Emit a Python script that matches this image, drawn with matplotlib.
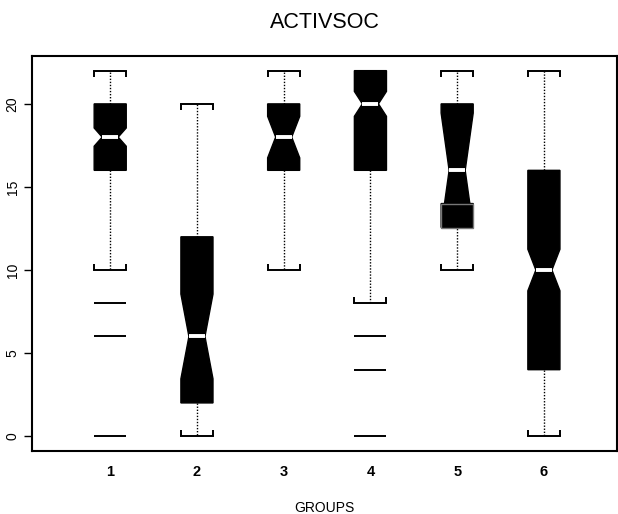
import matplotlib
matplotlib.use("Agg")
import matplotlib.pyplot as plt
from matplotlib.patches import Rectangle

plt.rcParams["font.family"] = ["Liberation Sans", "DejaVu Sans"]

# summary stats per group
groups = ["1", "2", "3", "4", "5", "6"]
medians = [18, 6, 18, 20, 16, 10]
q1 = [16, 2, 16, 16, 14, 4]
q3 = [20, 12, 20, 22, 20, 16]
whis_lo = [10, 0, 10, 8, 10, 0]
whis_hi = [22, 20, 22, 22, 22, 22]
notch_half = [0.55, 2.55, 1.25, 0.75, 3.45, 1.25]
outliers = [[8, 6, 0], [], [], [6, 4, 0], [], []]

stats = []
for i, g in enumerate(groups):
    stats.append(dict(label=g, med=medians[i], q1=q1[i], q3=q3[i],
                      whislo=whis_lo[i], whishi=whis_hi[i],
                      cilo=medians[i] - notch_half[i],
                      cihi=medians[i] + notch_half[i],
                      fliers=outliers[i]))

fig = plt.figure(figsize=(6.18, 5.14), dpi=100)
ax = fig.add_axes([0.052, 0.123, 0.946, 0.768])

w = 0.37
pos = list(range(1, 7))
bp = ax.bxp(stats, positions=pos, widths=w, capwidths=w,
            shownotches=True, patch_artist=True,
            boxprops=dict(facecolor="black", edgecolor="black", linewidth=1),
            medianprops=dict(color="white", linewidth=2.8, solid_capstyle="butt"),
            whiskerprops=dict(color="black", linestyle=(0, (1, 1.2)), linewidth=1),
            capprops=dict(color="black", linewidth=1.4),
            flierprops=dict(marker="_", markersize=23, markeredgewidth=1.4,
                            markeredgecolor="black"))

# small end ticks on the staples; drop staples that sit on a hinge
for k, cap in enumerate(bp["caps"]):
    i = k // 2
    cap.set_marker(2 if k % 2 == 0 else 3)
    cap.set_markersize(4)
    cap.set_markeredgewidth(1.4)
    cap.set_markeredgecolor("black")
    if (k % 2 == 1 and whis_hi[i] == q3[i]) or (k % 2 == 0 and whis_lo[i] == q1[i]):
        cap.set_visible(False)

# notch reaching below the lower hinge: fill the gap as a full-width block
for i in range(len(groups)):
    lo = medians[i] - notch_half[i]
    if lo < q1[i]:
        ax.add_patch(Rectangle((pos[i] - w / 2, lo), w, q1[i] - lo,
                               facecolor="black", edgecolor="#777777",
                               linewidth=1, zorder=2.5))

ax.set_xlim(0.1, 6.84)
ax.set_ylim(-0.88, 22.88)
ax.set_yticks([0, 5, 10, 15, 20])
ax.set_yticklabels(["0", "5", "10", "15", "20"], rotation=90, va="center")
ax.tick_params(axis="y", length=6, width=1, labelsize=10, pad=3)
ax.tick_params(axis="x", length=0, labelsize=10.5, pad=10)
for lbl in ax.get_xticklabels():
    lbl.set_fontweight("bold")

for s in ax.spines.values():
    s.set_linewidth(1.5)

ax.set_title("ACTIVSOC", fontsize=15.5, pad=20)
ax.set_xlabel("GROUPS", fontsize=10, labelpad=16)

fig.savefig("out.png", dpi=100)
